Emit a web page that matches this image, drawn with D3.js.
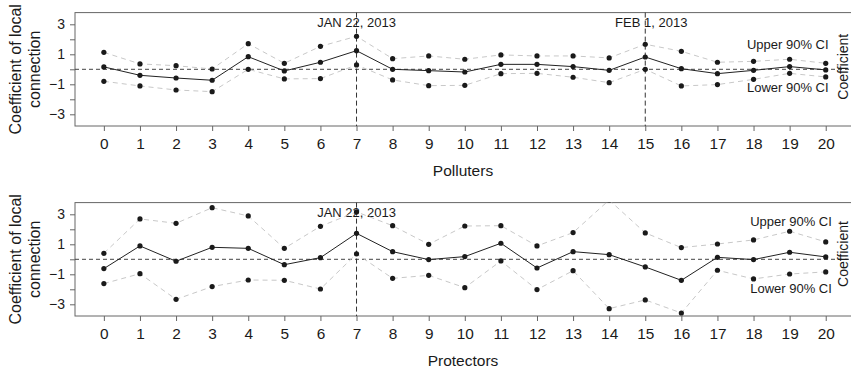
<!DOCTYPE html>
<html>
<head>
<meta charset="utf-8">
<script src="https://cdn.jsdelivr.net/npm/d3@7"></script>
<style>
  body { margin: 0; background: #fff; }
  svg { display: block; font-family: "Liberation Sans", Arial, Helvetica, sans-serif; }
</style>
</head>
<body>
<svg id="chart" width="851" height="371"></svg>
<script>
// periods on the x axis
const PERIODS = [0, 1, 2, 3, 4, 5, 6, 7, 8, 9, 10, 11, 12, 13, 14, 15, 16, 17, 18, 19, 20];

// polluters panel
const POLLUTER_COEF = [0.16, -0.40, -0.58, -0.73, 0.84, -0.11, 0.47, 1.24, 0.00, -0.09, -0.18,
  0.33, 0.33, 0.18, -0.07, 0.82, 0.04, -0.29, -0.07, 0.18, -0.04];
const POLLUTER_UPPER = [1.13, 0.36, 0.24, 0.02, 1.71, 0.40, 1.53, 2.20, 0.71, 0.89, 0.67,
  0.96, 0.89, 0.89, 0.76, 1.67, 1.20, 0.47, 0.53, 0.67, 0.40];
const POLLUTER_LOWER = [-0.80, -1.11, -1.38, -1.49, 0.00, -0.64, -0.62, 0.29, -0.71, -1.09, -1.07,
  -0.29, -0.27, -0.53, -0.89, 0.00, -1.11, -1.02, -0.67, -0.27, -0.51];

// protectors panel
const PROTECTOR_COEF = [-0.62, 0.89, -0.13, 0.80, 0.73, -0.36, 0.11, 1.73, 0.51, -0.02, 0.18,
  1.07, -0.58, 0.51, 0.31, -0.51, -1.40, 0.13, -0.02, 0.47, 0.16];
const PROTECTOR_UPPER = [0.40, 2.69, 2.40, 3.44, 2.89, 0.73, 2.20, 3.16, 2.24, 1.00, 2.22,
  2.24, 0.89, 1.78, 3.95, 1.76, 0.78, 1.02, 1.29, 1.87, 1.16];
const PROTECTOR_LOWER = [-1.62, -0.96, -2.67, -1.82, -1.38, -1.40, -1.98, 0.36, -1.27, -1.07, -1.89,
  -0.11, -2.02, -0.76, -3.29, -2.71, -3.58, -0.73, -1.31, -0.98, -0.84];

const Y_TICKS = [-3, -2, -1, 0, 1, 2, 3];

const POLLUTER_EVENTS = [{ period: 7, label: "JAN 22, 2013" }, { period: 15, label: "FEB 1, 2013" }];
const PROTECTOR_EVENTS = [{ period: 7, label: "JAN 22, 2013" }];

const panels = [
  { name: "Polluters", coef: POLLUTER_COEF, upper: POLLUTER_UPPER, lower: POLLUTER_LOWER,
    events: POLLUTER_EVENTS, top: 12.6, upLab: 1.33, lowLab: -1.53, labX: 20.08, coefY: -2.6 },
  { name: "Protectors", coef: PROTECTOR_COEF, upper: PROTECTOR_UPPER, lower: PROTECTOR_LOWER,
    events: PROTECTOR_EVENTS, top: 202.6, upLab: 2.24, lowLab: -2.27, labX: 20.17, coefY: -5.3 },
];

const svg = d3.select("#chart");
const plotLeft = 75, plotRight = 854.6, plotH = 113.4;
const boxColor = "#666";
const textColor = "#1a1a1a";

const xScale = d3.scaleLinear().domain([-0.8, 20.8]).range([plotLeft, plotRight]);

panels.forEach(function (p, pi) {
  const yScale = d3.scaleLinear().domain([-3.78, 3.78]).range([p.top + plotH, p.top]);
  const g = svg.append("g");
  const clipId = "clip" + pi;

  svg.append("clipPath").attr("id", clipId)
    .append("rect")
    .attr("x", plotLeft).attr("y", p.top)
    .attr("width", plotRight - plotLeft).attr("height", plotH);

  // box: top, left, bottom (right side falls just outside the page)
  g.append("rect")
    .attr("x", plotLeft).attr("y", p.top)
    .attr("width", plotRight - plotLeft).attr("height", plotH)
    .attr("fill", "none").attr("stroke", boxColor).attr("stroke-width", 1);

  // axes
  const xAxis = d3.axisBottom(xScale).tickValues(PERIODS).tickSize(5).tickPadding(8)
    .tickFormat(d3.format("d"));
  const xg = g.append("g")
    .attr("transform", `translate(0,${p.top + plotH})`)
    .call(xAxis);
  xg.select(".domain").remove();
  xg.selectAll(".tick line").attr("stroke", boxColor);
  xg.selectAll(".tick text")
    .attr("fill", textColor).style("font-size", "14px")
    .attr("transform", "scale(1.1,1)");

  const yAxis = d3.axisLeft(yScale).tickValues(Y_TICKS).tickSize(5).tickPadding(5)
    .tickFormat((d) => (Math.abs(d) % 2 === 1 ? d3.format("d")(d) : ""));
  const yg = g.append("g")
    .attr("transform", `translate(${plotLeft},0)`)
    .call(yAxis);
  yg.select(".domain").remove();
  yg.selectAll(".tick line").attr("stroke", boxColor);
  yg.selectAll(".tick text").attr("fill", textColor).style("font-size", "14px");

  // zero reference line
  g.append("line")
    .attr("x1", plotLeft).attr("x2", plotRight)
    .attr("y1", yScale(0)).attr("y2", yScale(0))
    .attr("stroke", "#444").attr("stroke-dasharray", "4,3");

  // event lines and labels
  p.events.forEach(function (e, ei) {
    g.append("line")
      .attr("x1", xScale(e.period)).attr("x2", xScale(e.period))
      .attr("y1", p.top).attr("y2", p.top + plotH)
      .attr("stroke", "#333").attr("stroke-dasharray", "5,3");
    g.append("text")
      .attr("x", xScale(e.period)).attr("y", p.top + 14.2)
      .attr("dx", ei === 1 ? 6 : 0)
      .attr("text-anchor", "middle")
      .attr("fill", textColor).style("font-size", "13px")
      .text(e.label);
  });

  const data = g.append("g").attr("clip-path", `url(#${clipId})`);
  const line = d3.line().x((d, i) => xScale(PERIODS[i])).y((d) => yScale(d));

  [p.upper, p.lower].forEach(function (s) {
    data.append("path").datum(s)
      .attr("d", line)
      .attr("fill", "none").attr("stroke", "#c8c8c8")
      .attr("stroke-dasharray", "5,4");
  });
  data.append("path").datum(p.coef)
    .attr("d", line)
    .attr("fill", "none").attr("stroke", "#222").attr("stroke-width", 1);

  [p.upper, p.coef, p.lower].forEach(function (s) {
    data.selectAll(null).data(s).enter()
      .append("circle")
      .attr("cx", (d, i) => xScale(PERIODS[i]))
      .attr("cy", (d) => yScale(d))
      .attr("r", 2.6)
      .attr("fill", "#1a1a1a");
  });

  // CI labels and right side title
  g.append("text")
    .attr("x", xScale(p.labX)).attr("y", yScale(p.upLab))
    .attr("text-anchor", "end").attr("fill", textColor).style("font-size", "13px")
    .text("Upper 90% CI");
  g.append("text")
    .attr("x", xScale(p.labX)).attr("y", yScale(p.lowLab))
    .attr("text-anchor", "end").attr("fill", textColor).style("font-size", "13px")
    .text("Lower 90% CI");
  g.append("text")
    .attr("transform", `translate(848,${yScale(0) + p.coefY}) rotate(-90)`)
    .attr("text-anchor", "middle").attr("fill", textColor).style("font-size", "14px")
    .text("Coefficient");

  // y axis title (two lines)
  const midY = p.top + plotH / 2;
  g.append("text")
    .attr("transform", `translate(21,${midY}) rotate(-90)`)
    .attr("text-anchor", "middle").attr("fill", textColor).style("font-size", "16px")
    .text("Coefficient of local");
  g.append("text")
    .attr("transform", `translate(40,${midY}) rotate(-90)`)
    .attr("text-anchor", "middle").attr("fill", textColor).style("font-size", "16px")
    .text("connection");

  // x axis title
  g.append("text")
    .attr("x", 463).attr("y", p.top + 163.1)
    .attr("text-anchor", "middle").attr("fill", textColor).style("font-size", "15.5px")
    .text(p.name);
});
</script>
</body>
</html>
